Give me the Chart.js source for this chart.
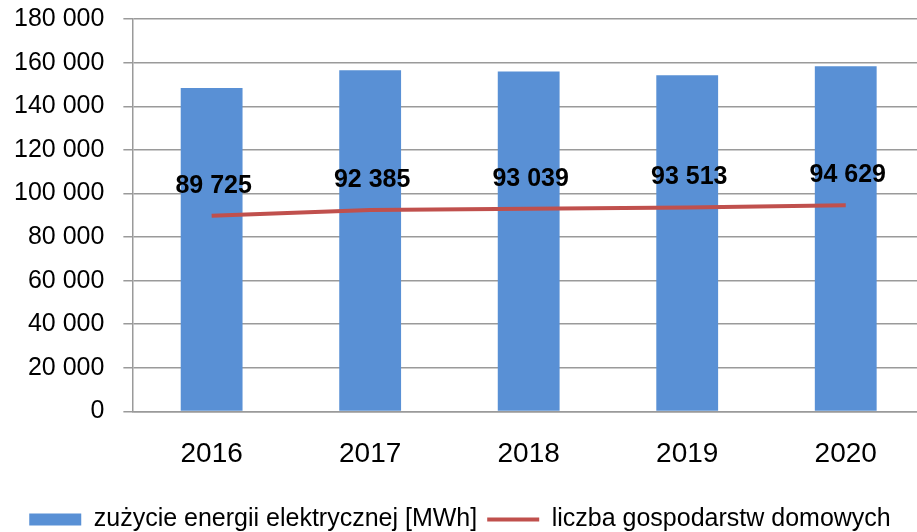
<!DOCTYPE html>
<html>
<head>
<meta charset="utf-8">
<script src="https://cdn.jsdelivr.net/npm/chart.js@4.4.1/dist/chart.umd.min.js"></script>
<style>
  html, body { margin: 0; padding: 0; background: #ffffff; overflow: hidden; }
  #wrap { width: 926px; height: 532px; position: relative; }
</style>
</head>
<body>
<div id="wrap"><canvas id="c"></canvas></div>
<script>
const years = ['2016', '2017', '2018', '2019', '2020'];
const energyMWh = [148400, 156500, 156000, 154300, 158400];
const households = [89725, 92385, 93039, 93513, 94629];
const energyLabel = 'zużycie energii elektrycznej [MWh]';
const householdsLabel = 'liczba gospodarstw domowych';
const yMin = 0;
const yMax = 180000;
const yStep = 20000;

function fmt(v) {
  return String(Math.round(v)).replace(/\B(?=(\d{3})+(?!\d))/g, ' ');
}

const pointLabels = {
  id: 'pointLabels',
  afterDatasetsDraw(chart) {
    const ctx = chart.ctx;
    const meta = chart.getDatasetMeta(1);
    ctx.save();
    ctx.font = 'bold 25px "Liberation Sans", Arial, sans-serif';
    ctx.fillStyle = '#000000';
    ctx.textAlign = 'center';
    ctx.textBaseline = 'middle';
    meta.data.forEach((pt, i) => {
      ctx.fillText(fmt(chart.data.datasets[1].data[i]), pt.x + 2, pt.y - 30);
    });
    ctx.restore();
  }
};

new Chart(document.getElementById('c'), {
  data: {
    labels: years,
    datasets: [
      {
        type: 'bar',
        label: energyLabel,
        data: energyMWh,
        backgroundColor: '#5990D5',
        borderWidth: 0,
        categoryPercentage: 1,
        barPercentage: 0.39,
        order: 2,
        pointStyle: 'rect'
      },
      {
        type: 'line',
        label: householdsLabel,
        data: households,
        borderColor: '#C0504D',
        backgroundColor: '#C0504D',
        borderWidth: 4,
        pointRadius: 0,
        tension: 0,
        order: 1,
        pointStyle: 'line'
      }
    ]
  },
  options: {
    responsive: true,
    maintainAspectRatio: false,
    animation: false,
    layout: { padding: { left: -5, right: 1, top: 0, bottom: -10 } },
    plugins: {
      tooltip: { enabled: false },
      legend: {
        position: 'bottom',
        labels: {
          usePointStyle: true,
          pointStyleWidth: 52,
          boxHeight: 12,
          padding: 10,
          color: '#000000',
          font: { family: '"Liberation Sans", Arial, sans-serif', size: 25 },
          sort: (a, b) => a.datasetIndex - b.datasetIndex
        }
      }
    },
    scales: {
      x: {
        grid: { display: false, drawTicks: false, tickLength: 0 },
        border: { display: true, color: '#9a9a9a', width: 1.5 },
        ticks: {
          color: '#000000',
          padding: 26,
          font: { family: '"Liberation Sans", Arial, sans-serif', size: 28 }
        }
      },
      y: {
        min: yMin,
        max: yMax,
        grid: { color: '#9a9a9a', lineWidth: 1.5, tickLength: 9, drawTicks: true },
        border: { display: true, color: '#9a9a9a', width: 1.5 },
        ticks: {
          stepSize: yStep,
          color: '#000000',
          padding: 19,
          font: { family: '"Liberation Sans", Arial, sans-serif', size: 25, lineHeight: 0.01 },
          callback: (v) => fmt(v)
        }
      }
    }
  },
  plugins: [pointLabels]
});
</script>
</body>
</html>
